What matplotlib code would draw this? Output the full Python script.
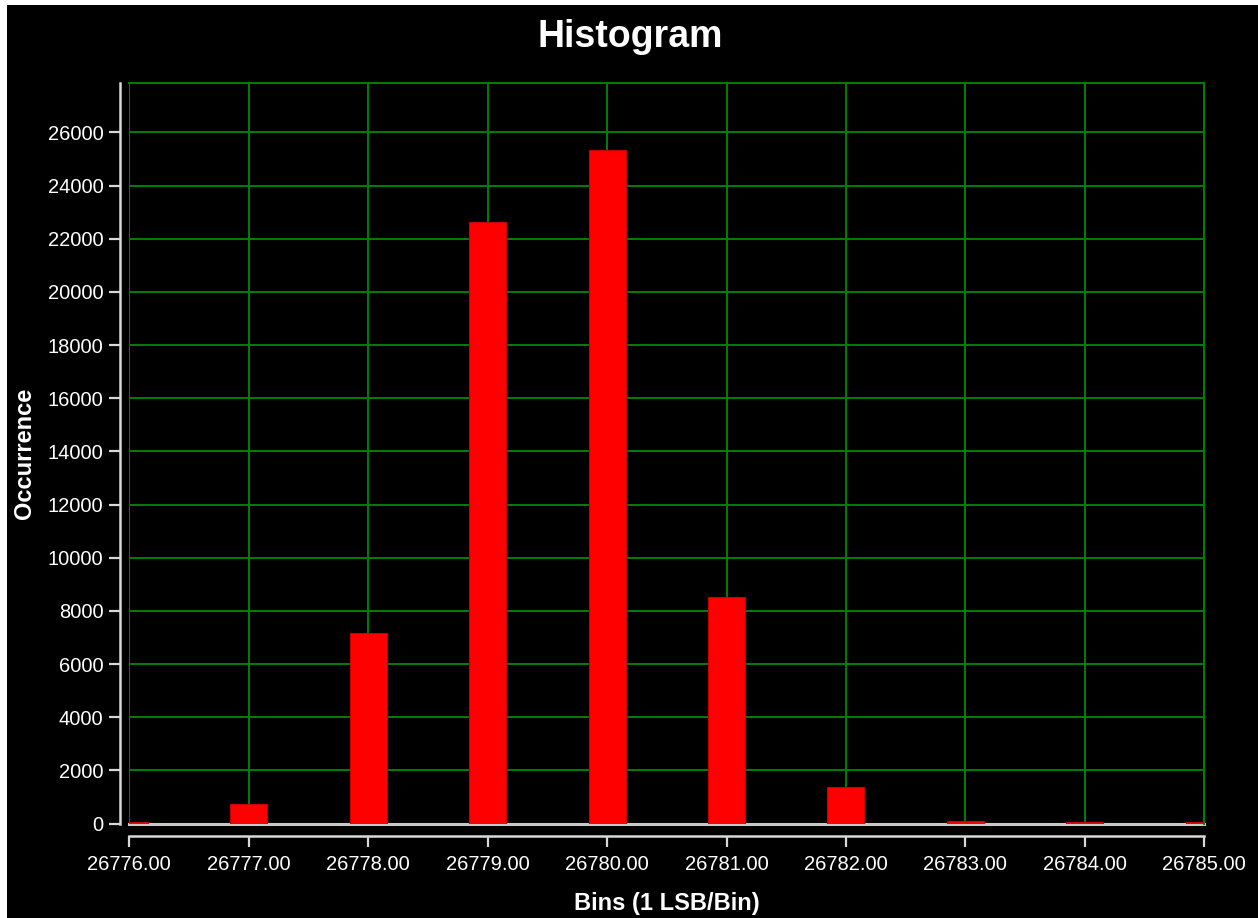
"""
Histogram of ADC codes (1 LSB per bin), dark scope-style theme.
"""
import matplotlib
matplotlib.use("Agg")
import matplotlib.pyplot as plt
from matplotlib.patches import Rectangle

plt.rcParams["font.family"] = ["Liberation Sans", "DejaVu Sans"]

# --- data ---
BINS = [26776, 26777, 26778, 26779, 26780, 26781, 26782, 26783, 26784, 26785]
COUNTS = [50, 735, 7170, 22620, 25320, 8535, 1385, 100, 45, 45]
Y_TICKS = list(range(0, 26001, 2000))
Y_MAX = 27870

TITLE = "Histogram"
X_LABEL = "Bins (1 LSB/Bin)"
Y_LABEL = "Occurrence"

W, H, DPI = 1258, 918, 100
GRID_GREEN = "#008000"
AXIS_GREY = "#d8d8d8"


def px_x(x):
    return x / W


def px_y(y):
    return 1 - y / H


def main():
    fig = plt.figure(figsize=(W / DPI, H / DPI), dpi=DPI, facecolor="black")
    # thin white frame on the left and top edges of the screenshot
    fig.patches.append(Rectangle((0, 0), px_x(7), 1, transform=fig.transFigure,
                                 facecolor="white", edgecolor="none", zorder=0))
    fig.patches.append(Rectangle((0, px_y(5)), 1, 5 / H, transform=fig.transFigure,
                                 facecolor="white", edgecolor="none", zorder=0))

    left, right = px_x(129.3), px_x(1204.3)
    top, bottom = px_y(82.7), px_y(823.5)
    ax = fig.add_axes([left, bottom, right - left, top - bottom])
    ax.set_facecolor("black")

    ax.bar(BINS, COUNTS, width=0.31, color="#ff0000", edgecolor="#c80000",
           linewidth=0.8, zorder=3)
    ax.axhline(0, color="#c8c8c8", linewidth=2.2, zorder=2, clip_on=False)

    ax.set_xlim(BINS[0], BINS[-1])
    ax.set_ylim(0, Y_MAX)
    ax.set_xticks(BINS)
    ax.set_xticklabels([f"{b:.2f}" for b in BINS])
    ax.set_yticks(Y_TICKS)
    ax.set_yticklabels([str(t) for t in Y_TICKS])

    ax.grid(True, color=GRID_GREEN, linewidth=1.4, zorder=1)
    ax.set_axisbelow(True)

    for side in ("top", "right"):
        ax.spines[side].set_color(GRID_GREEN)
        ax.spines[side].set_linewidth(1.4)
    ax.spines["left"].set_position(("outward", 6.5))
    ax.spines["bottom"].set_position(("outward", 9))
    for side in ("left", "bottom"):
        ax.spines[side].set_color(AXIS_GREY)
        ax.spines[side].set_linewidth(1.8)

    ax.tick_params(axis="both", colors=AXIS_GREY, labelcolor="white",
                   labelsize=14.5, width=1.6, length=8)
    ax.tick_params(axis="x", pad=6)
    ax.tick_params(axis="y", pad=4)

    fig.text(px_x(630), px_y(47), TITLE, color="white", fontsize=27,
             fontweight="bold", ha="center", va="baseline")
    fig.text(px_x(666.5), px_y(910), X_LABEL, color="white", fontsize=17,
             fontweight="bold", ha="center", va="baseline")
    fig.text(px_x(25), px_y(453), Y_LABEL, color="white", fontsize=17,
             fontweight="bold", ha="center", va="center", rotation=90)

    fig.savefig("out.png", dpi=DPI, facecolor=fig.get_facecolor())
    plt.close(fig)


if __name__ == "__main__":
    main()
